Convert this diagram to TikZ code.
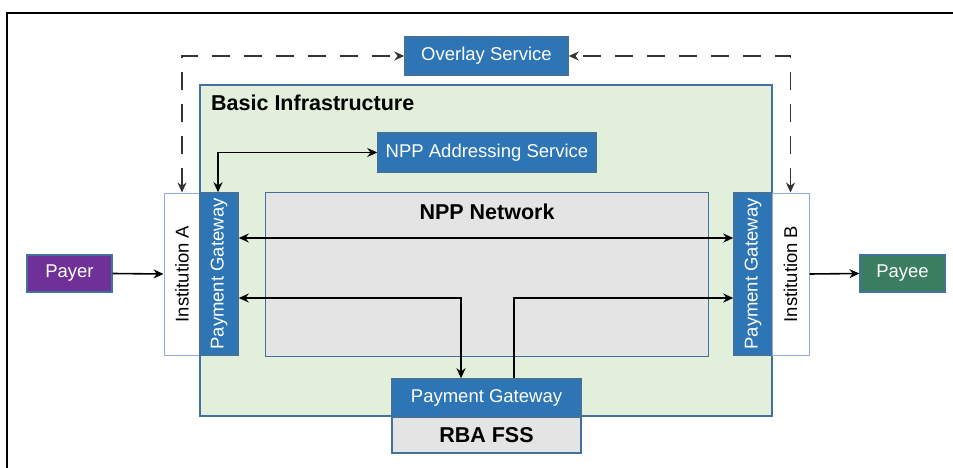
\documentclass[tikz,border=0pt]{standalone}
\usepackage{fontspec}
\setmainfont{Liberation Sans}
\usetikzlibrary{arrows.meta,calc}
\definecolor{pgblue}{HTML}{2E75B6}
\definecolor{bordblue}{HTML}{41719C}
\definecolor{lightbord}{HTML}{8FAADC}
\definecolor{infragreen}{HTML}{E2EFDA}
\definecolor{nppgray}{HTML}{E4E4E4}
\definecolor{payerpurple}{HTML}{6F3198}
\definecolor{payeegreen}{HTML}{3A7D60}
\tikzset{
  bluebox/.style={draw=bordblue, line width=1.5pt, fill=pgblue, text=white, inner sep=0pt, font=\fontsize{18.5}{20}\selectfont},
  instbox/.style={draw=lightbord, line width=1pt, fill=white, inner sep=0pt, font=\fontsize{18.5}{20}\selectfont},
  bigbox/.style={draw=bordblue, line width=1.5pt, inner sep=0pt},
  boldlabel/.style={font=\bfseries\fontsize{21.5}{23}\selectfont, inner sep=0pt},
  conn/.style={line width=1.6pt, black, -{Stealth[length=10pt,width=9pt]}},
  bconn/.style={line width=1.6pt, black, {Stealth[length=10pt,width=9pt]}-{Stealth[length=10pt,width=9pt]}},
  dconn/.style={line width=1.6pt, black!80, dash pattern=on 18pt off 14pt, {Stealth[length=10pt,width=9pt]}-{Stealth[length=10pt,width=9pt]}},
  frameline/.style={line width=1.5pt, black}
}
\begin{document}
\begin{tikzpicture}[x=1pt,y=-1pt]
\useasboundingbox (0,0) rectangle (953,468);
% frame lines
\coordinate (fl) at (7,468);
\coordinate (fc) at (7,13);
\coordinate (fr) at (953,13);
\draw[frameline] (fl) -- (fc) -- (fr);
% basic infrastructure
\node[bigbox, fill=infragreen, minimum width=572pt, minimum height=331pt] (basic) at (486,250.5) {};
\node[boldlabel, anchor=west] (basiclbl) at (211,103) {Basic Infrastructure};
% NPP network
\node[bigbox, line width=1pt, fill=nppgray, minimum width=443pt, minimum height=164pt] (npp) at (486.5,274) {};
\node[boldlabel] (npplbl) at (487,212) {NPP Network};
% overlay
\node[bluebox, minimum width=163pt, minimum height=38pt] (overlay) at (486.5,56) {Overlay Service};
% addressing
\node[bluebox, minimum width=218pt, minimum height=39pt] (addr) at (487,152.5) {NPP Addressing Service};
% institutions and gateways
\node[instbox, minimum width=36pt, minimum height=162pt] (instA) at (182,274) {\rotatebox{90}{Institution A}};
\node[bluebox, minimum width=38pt, minimum height=162pt] (pgA) at (219,274) {\rotatebox{90}{Payment Gateway}};
\node[bluebox, minimum width=38pt, minimum height=162pt] (pgB) at (753,274) {\rotatebox{90}{Payment Gateway}};
\node[instbox, minimum width=37pt, minimum height=162pt] (instB) at (790.5,274) {\rotatebox{90}{Institution B}};
% payer / payee
\node[draw=bordblue, line width=1.2pt, fill=payerpurple, text=white, inner sep=0pt, font=\fontsize{18.5}{20}\selectfont, minimum width=85pt, minimum height=37pt] (payer) at (69.5,273.5) {Payer};
\node[draw=bordblue, line width=1.2pt, fill=payeegreen, text=white, inner sep=0pt, font=\fontsize{18.5}{20}\selectfont, minimum width=85pt, minimum height=37pt] (payee) at (902.5,273.5) {Payee};
% RBA FSS
\node[bluebox, minimum width=189pt, minimum height=38pt] (rbapg) at (486.5,398) {Payment Gateway};
\node[draw=bordblue, line width=1.5pt, fill=nppgray, inner sep=0pt, boldlabel, minimum width=189pt, minimum height=36pt] (fss) at (486.5,435) {RBA FSS};
% connectors
\draw[conn] (payer.east) -- (instA.west);
\draw[conn] (instB.east) -- (payee.west);
\draw[bconn] ([yshift=36pt]pgA.east) -- ([yshift=36pt]pgB.west);
\draw[bconn] ([yshift=-24pt]pgA.east) -| ([xshift=-25.5pt]rbapg.north);
\draw[conn] ([xshift=27.5pt]rbapg.north) |- ([yshift=-24pt]pgB.west);
\draw[bconn] ([xshift=-1pt]pgA.north) |- (addr.west);
\draw[dconn] (instA.north) |- (overlay.west);
\draw[dconn] (instB.north) |- (overlay.east);
\end{tikzpicture}
\end{document}
